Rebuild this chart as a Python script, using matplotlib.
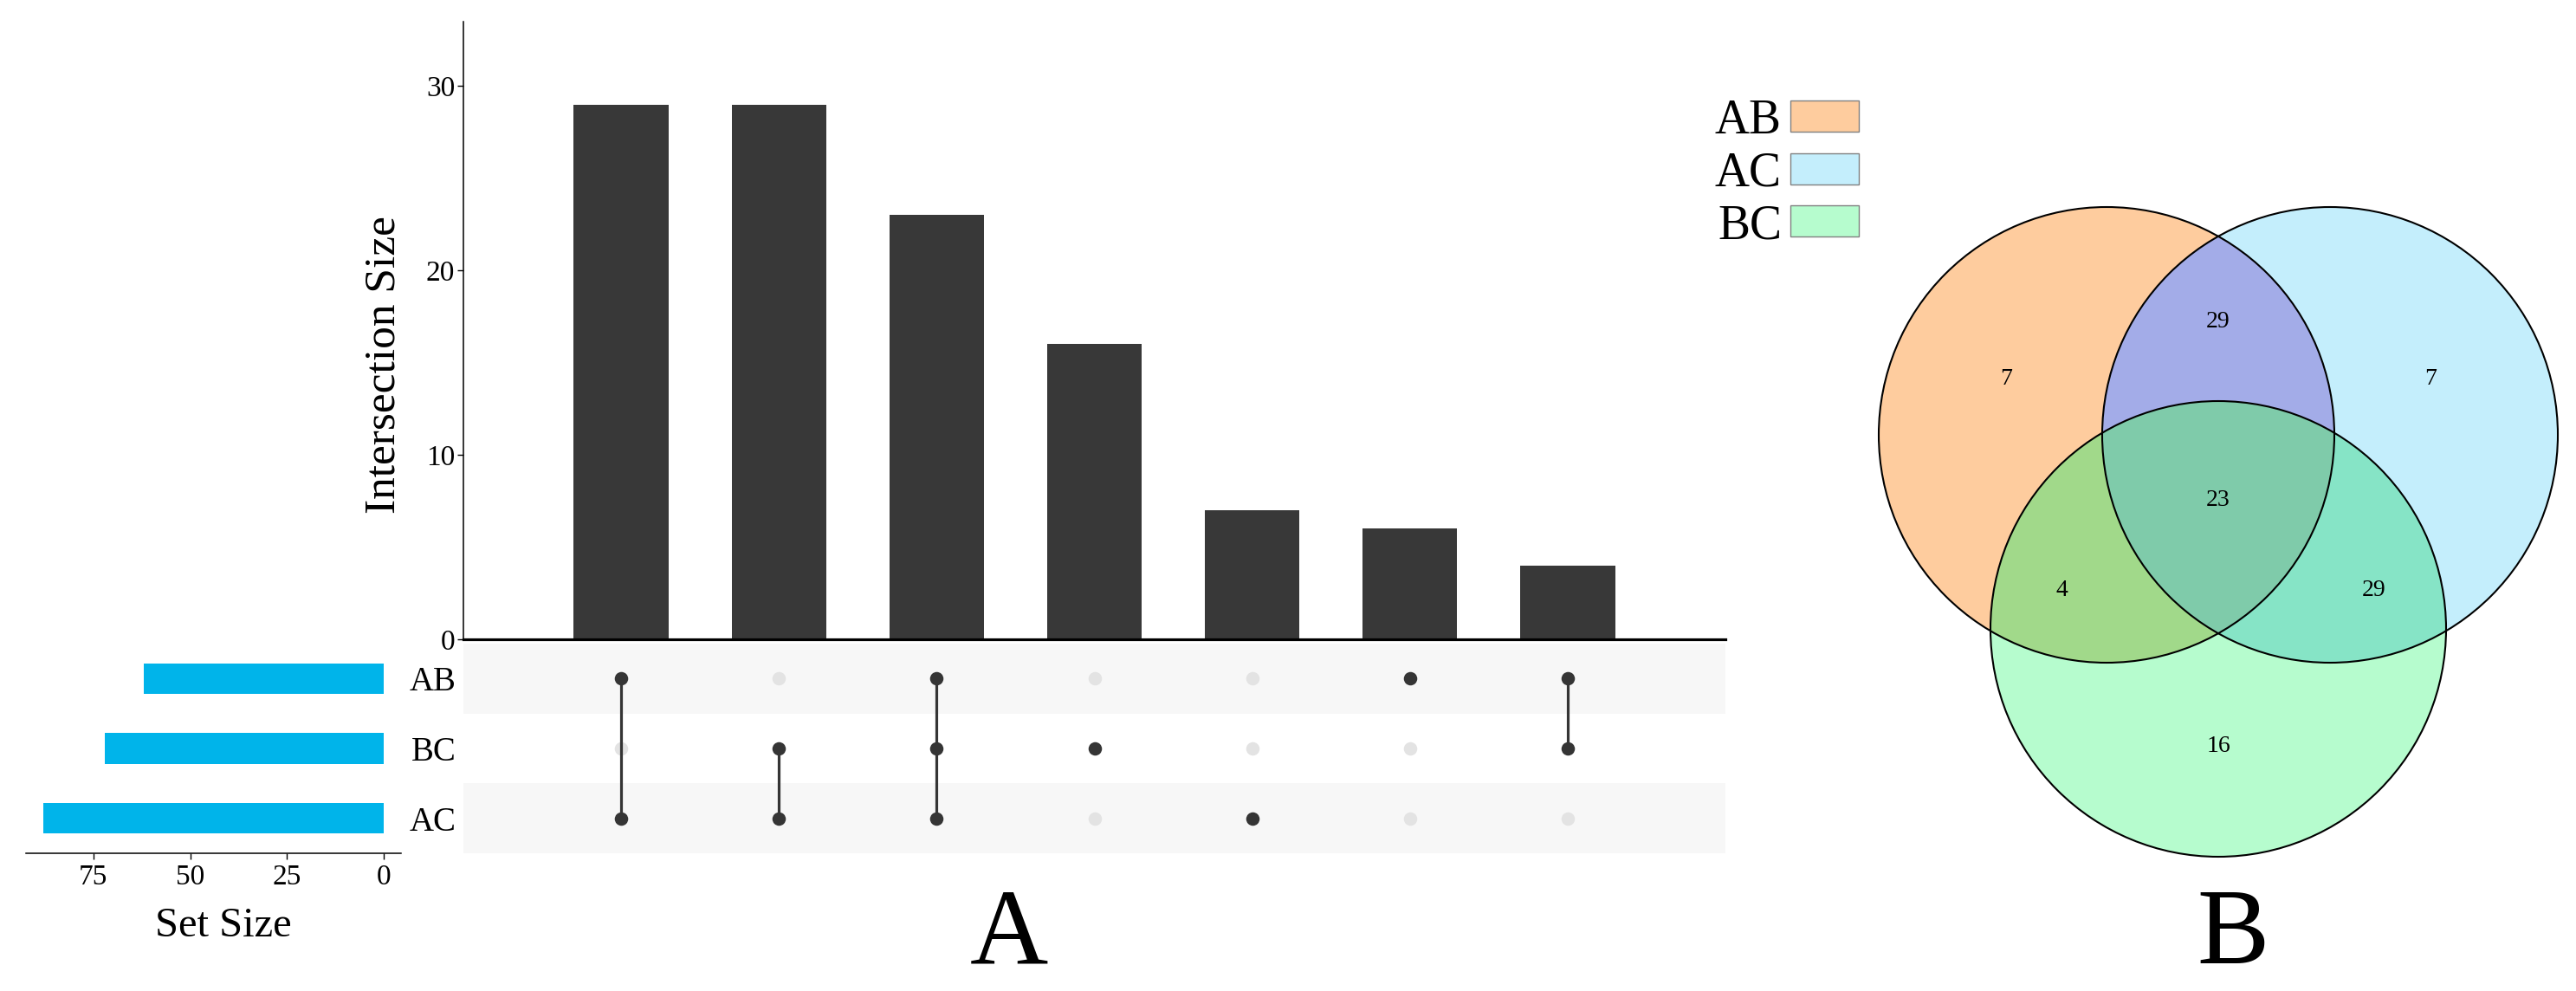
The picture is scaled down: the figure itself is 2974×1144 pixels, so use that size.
import numpy as np
import matplotlib
matplotlib.use("Agg")
import matplotlib.pyplot as plt
from matplotlib.patches import Circle, Rectangle
from matplotlib.colors import to_rgba

plt.rcParams['font.family'] = ['Liberation Serif', 'DejaVu Serif']

# ---- data ----
set_names = ['AB', 'BC', 'AC']            # matrix rows, top to bottom
set_sizes = [62, 72, 88]
combos = [('AB', 'AC'), ('BC', 'AC'), ('AB', 'BC', 'AC'), ('BC',), ('AC',), ('AB',), ('AB', 'BC')]
inter_sizes = [29, 29, 23, 16, 7, 6, 4]
yticks_inter = [0, 10, 20, 30]
xticks_set = [0, 25, 50, 75]

venn_sets = ['AB', 'AC', 'BC']
venn_regions = ['AB', 'AC', 'BC', 'AB&AC', 'AB&BC', 'AC&BC', 'AB&AC&BC']
venn_counts = [7, 7, 16, 29, 4, 29, 23]

# ---- styles ----
W, H = 2974, 1144
bar_color = '#383838'
dot_on = '#353535'
dot_off = '#E3E3E3'
stripe = '#F7F7F7'
setbar_color = '#00B4EA'
legend_colors = {'AB': '#FECC9E', 'AC': '#C4EEFC', 'BC': '#B6FCCE'}
region_colors = {'AB': '#FECC9E', 'AC': '#C4EEFC', 'BC': '#B6FCCE',
                 'AB&AC': '#A3ACE8', 'AB&BC': '#A1D98A', 'AC&BC': '#86E4C6',
                 'AB&AC&BC': '#7FCBAA'}

fig = plt.figure(figsize=(W / 100, H / 100), dpi=100)


def px_axes(x0, y0, x1, y1):
    # axes from pixel box (top-left origin)
    return fig.add_axes([x0 / W, 1 - y1 / H, (x1 - x0) / W, (y1 - y0) / H])


# intersection size bars
axb = px_axes(535, 25, 1992, 738)
xpos = np.arange(1, len(inter_sizes) + 1)
axb.bar(xpos, inter_sizes, width=0.6, color=bar_color)
axb.set_xlim(0, len(inter_sizes) + 1)
axb.set_ylim(0, 33.5)
axb.set_xticks([])
axb.set_yticks(yticks_inter)
axb.tick_params(axis='y', labelsize=24, length=5, width=1, pad=2)
for s in ['top', 'right']:
    axb.spines[s].set_visible(False)
axb.spines['bottom'].set_linewidth(2.3)
axb.spines['left'].set_linewidth(1.1)
fig.text(443 / W, 1 - 421 / H, 'Intersection Size', rotation=90,
         ha='center', va='center', fontsize=37)

# matrix
axm = px_axes(535, 743, 1992, 985)
axm.set_xlim(0, len(inter_sizes) + 1)
axm.set_ylim(-0.5, len(set_names) - 0.5)
row_y = {name: len(set_names) - 1 - i for i, name in enumerate(set_names)}
for i, name in enumerate(set_names):
    if i % 2 == 0:
        axm.axhspan(row_y[name] - 0.5, row_y[name] + 0.5, color=stripe, lw=0, zorder=0)
for j, combo in enumerate(combos):
    x = xpos[j]
    on = [row_y[n] for n in combo]
    off = [row_y[n] for n in set_names if n not in combo]
    axm.scatter([x] * len(off), off, s=125, color=dot_off, zorder=2, linewidths=0)
    if len(on) > 1:
        axm.plot([x, x], [min(on), max(on)], color=dot_on, lw=2.3, zorder=3)
    axm.scatter([x] * len(on), on, s=125, color=dot_on, zorder=4, linewidths=0)
axm.set_xticks([])
axm.set_yticks([row_y[n] for n in set_names])
axm.set_yticklabels(set_names)
axm.tick_params(axis='y', labelsize=28, length=0, pad=6)
for s in axm.spines.values():
    s.set_visible(False)

# set size bars
axs = px_axes(30, 743, 463, 985)
axs.barh([row_y[n] for n in set_names], set_sizes, height=0.44, color=setbar_color)
axs.set_xlim(92.4, -4.4)
axs.set_ylim(-0.5, len(set_names) - 0.5)
axs.set_yticks([])
axs.set_xticks(xticks_set)
axs.tick_params(axis='x', labelsize=24, length=5, width=1, pad=4)
for s in ['top', 'right', 'left']:
    axs.spines[s].set_visible(False)
axs.spines['bottom'].set_linewidth(1.1)
axs.set_xlabel('Set Size', fontsize=35)
axs.xaxis.set_label_coords(0.527, -0.255)

# overlay in pixel coordinates for the Venn, legend and panel letters
ov = fig.add_axes([0, 0, 1, 1])
ov.set_xlim(0, W)
ov.set_ylim(H, 0)
ov.axis('off')
ov.patch.set_visible(False)

centers = {'AB': (2432, 502), 'AC': (2690, 502), 'BC': (2561, 726)}
r = 263
gx0, gx1, gy0, gy1 = 2150, 2980, 220, 1010
X, Y = np.meshgrid(np.arange(gx0, gx1) + 0.5, np.arange(gy0, gy1) + 0.5)
inside = {k: (X - c[0]) ** 2 + (Y - c[1]) ** 2 <= r ** 2 for k, c in centers.items()}
img = np.zeros(X.shape + (4,))
for reg in venn_regions:
    members = reg.split('&')
    mask = np.ones(X.shape, bool)
    for k in venn_sets:
        mask &= inside[k] if k in members else ~inside[k]
    img[mask] = to_rgba(region_colors[reg])
ov.imshow(img, extent=(gx0, gx1, gy1, gy0), interpolation='nearest', aspect='auto', zorder=1)
for k in venn_sets:
    ov.add_patch(Circle(centers[k], r, fill=False, ec='black', lw=1.5, zorder=2))
ov.set_xlim(0, W)
ov.set_ylim(H, 0)

label_pos = {'AB': (2316, 437), 'AC': (2806, 437), 'BC': (2561, 861),
             'AB&AC': (2561, 371), 'AB&BC': (2380, 682), 'AC&BC': (2741, 682),
             'AB&AC&BC': (2561, 578)}
for reg, n in zip(venn_regions, venn_counts):
    ov.text(*label_pos[reg], str(n), ha='center', va='center', fontsize=20, zorder=3)

# legend
for i, k in enumerate(venn_sets):
    yc = 134 + i * 60.5
    ov.add_patch(Rectangle((2067, yc - 18), 79, 36, fc=legend_colors[k], ec='#808080', lw=1, zorder=3))
    ov.text(2057, yc + 20, k, ha='right', va='baseline', fontsize=40, zorder=3)

# panel letters
ov.text(1165, 1112, 'A', ha='center', va='baseline', fontsize=90)
ov.text(2578, 1112, 'B', ha='center', va='baseline', fontsize=90)

fig.savefig('out.png', dpi=100)
